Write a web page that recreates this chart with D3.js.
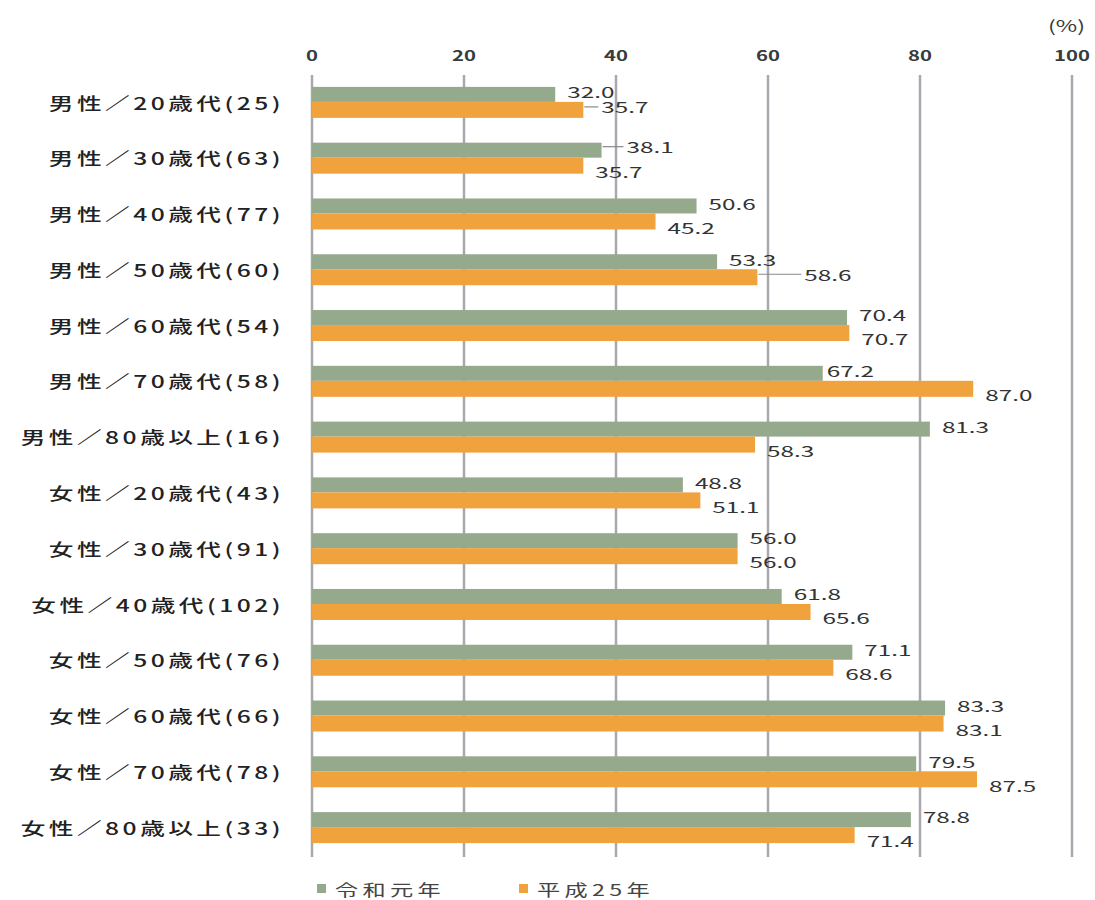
<!DOCTYPE html>
<html lang="ja">
<head>
<meta charset="utf-8">
<script src="https://cdn.jsdelivr.net/npm/d3@7"></script>
<style>
  html, body { margin: 0; padding: 0; background: #ffffff; }
  svg { display: block; }
  text { font-family: "Noto Sans CJK JP", "Noto Sans", sans-serif; fill: #333; }
</style>
</head>
<body>
<svg id="chart" width="1095" height="900"></svg>
<script>
// Respondent groups (sample size in parentheses)
const categories = [
  "男性／20歳代(25)", "男性／30歳代(63)", "男性／40歳代(77)", "男性／50歳代(60)",
  "男性／60歳代(54)", "男性／70歳代(58)", "男性／80歳以上(16)",
  "女性／20歳代(43)", "女性／30歳代(91)", "女性／40歳代(102)", "女性／50歳代(76)",
  "女性／60歳代(66)", "女性／70歳代(78)", "女性／80歳以上(33)"
];
// 令和元年 survey (%)
const valuesReiwa = [32.0, 38.1, 50.6, 53.3, 70.4, 67.2, 81.3, 48.8, 56.0, 61.8, 71.1, 83.3, 79.5, 78.8];
// 平成25年 survey (%)
const valuesHeisei = [35.7, 35.7, 45.2, 58.6, 70.7, 87.0, 58.3, 51.1, 56.0, 65.6, 68.6, 83.1, 87.5, 71.4];
const seriesNames = ["令和元年", "平成25年"];
const xTicks = [0, 20, 40, 60, 80, 100];
const unitLabel = "(%)";

// ---- layout ----
const SX = 1.45;               // horizontal stretch applied to text
const colors = ["#95a98d", "#f0a23d"];
const svg = d3.select("#chart");

const x = d3.scaleLinear().domain([0, 100]).range([312, 1072]);
const y = d3.scaleBand().domain(categories).range([74, 855]).paddingInner(0);
const center = d => y(d) + y.bandwidth() / 2;
const barH = [15, 16];

// label tweaks: leader lines and small nudges, keyed by series index and row index
const leaders = { "1-0": 15, "0-1": 22, "1-3": 44 };
const nudges = { "0-5": -8 };

function sText(g, str, tx, ty, anchor, size, sx = SX) {
  return g.append("text")
    .attr("transform", `translate(${tx},${ty}) scale(${sx},1)`)
    .attr("text-anchor", anchor)
    .attr("dominant-baseline", "central")
    .style("font-size", size + "px")
    .text(str);
}

// gridlines
const grid = svg.append("g");
grid.selectAll("line").data(xTicks).join("line")
  .attr("x1", d => x(d)).attr("x2", d => x(d))
  .attr("y1", 75).attr("y2", 857)
  .attr("stroke", "#a8a8ae").attr("stroke-width", 2.5);

// tick labels on top
const tickG = svg.append("g");
xTicks.forEach(t => sText(tickG, String(t), x(t), 55, "middle", 14).style("font-weight", 700).style("fill", "#3a3a3a"));
sText(tickG, unitLabel, 1085, 25, "end", 16).style("fill", "#3a3a3a");

// category labels
const catG = svg.append("g");
categories.forEach(c => sText(catG, c, 284, center(c), "end", 17)
  .style("letter-spacing", "2.4px").style("font-weight", 500).style("fill", "#222"));

// bars
const seriesVals = [valuesReiwa, valuesHeisei];
const barG = svg.append("g");
seriesVals.forEach((vals, s) => {
  barG.selectAll(null).data(categories).join("rect")
    .attr("x", x(0))
    .attr("y", d => s === 0 ? center(d) - barH[0] : center(d))
    .attr("width", (d, i) => x(vals[i]) - x(0))
    .attr("height", barH[s])
    .attr("fill", colors[s]);
});

// value labels
const lblG = svg.append("g");
seriesVals.forEach((vals, s) => {
  categories.forEach((c, i) => {
    const end = x(vals[i]);
    const key = s + "-" + i;
    let ly = s === 0 ? center(c) - 10 : center(c) + 14;
    let lx = end + 12 + (nudges[key] || 0);
    if (leaders[key]) {
      ly = s === 0 ? center(c) - 11 : center(c) + 5;
      lblG.append("line")
        .attr("x1", end + 1).attr("x2", end + leaders[key])
        .attr("y1", ly).attr("y2", ly)
        .attr("stroke", "#8a8a8a").attr("stroke-width", 1.2);
      lx = end + leaders[key] + 3;
    }
    sText(lblG, vals[i].toFixed(1), lx, ly, "start", 15, 1.62).style("fill", "#333");
  });
});

// legend
const legG = svg.append("g");
const legX = [317, 519];
seriesNames.forEach((n, s) => {
  legG.append("rect").attr("x", legX[s]).attr("y", 884).attr("width", 9).attr("height", 9).attr("fill", colors[s]);
  sText(legG, n, legX[s] + 18, 889, "start", 16).style("letter-spacing", "3px").style("fill", "#444");
});
</script>
</body>
</html>
